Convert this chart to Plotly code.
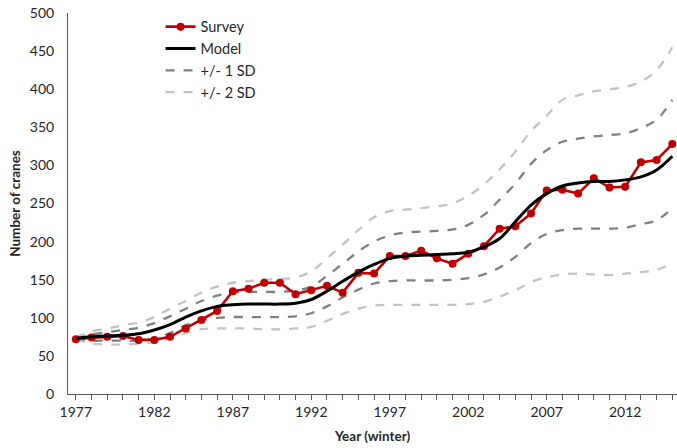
import plotly.graph_objects as go

years = list(range(1977, 2016))

survey = [72, 74, 75, 76, 71, 71, 75, 86, 97, 109, 135, 138, 146, 146, 131, 136, 142, 133,
          159, 158, 181, 181, 188, 178, 171, 184, 194, 217, 220, 237, 267, 268, 263, 283,
          271, 272, 304, 307, 328]

model = [73, 75, 76, 77, 79, 84, 91, 101, 109, 115, 117, 118, 118, 118, 119, 124, 135, 148,
         160, 170, 178, 181, 182, 183, 184, 186, 193, 204, 226, 248, 263, 273, 277, 279,
         279, 281, 285, 294, 312]

upper_2sd = [74, 82, 86, 90, 94, 101, 112, 122, 133, 141, 146, 148, 150, 151, 153, 161, 178,
             196, 215, 232, 240, 242, 244, 246, 250, 260, 275, 295, 318, 345, 365, 386, 392,
             397, 400, 403, 410, 425, 455]

upper_1sd = [73, 78, 81, 84, 87, 93, 102, 112, 122, 129, 133, 134, 134, 134, 136, 141, 155,
             171, 187, 200, 208, 212, 213, 214, 216, 222, 235, 255, 276, 302, 320, 331, 335,
             338, 340, 342, 349, 360, 386]

lower_1sd = [72, 70, 70, 70, 70, 73, 80, 90, 97, 100, 101, 101, 101, 101, 102, 106, 115, 127,
             137, 145, 148, 149, 149, 149, 150, 152, 157, 166, 180, 198, 210, 215, 217, 217,
             217, 218, 223, 228, 244]

lower_2sd = [72, 66, 65, 65, 66, 68, 73, 80, 85, 86, 86, 86, 85, 85, 86, 88, 96, 105, 112,
             116, 117, 117, 117, 117, 117, 118, 121, 128, 136, 147, 153, 157, 158, 157, 156,
             158, 160, 163, 172]

FONT = "Lato, 'Liberation Sans', sans-serif"
RED = "#C00000"
DARK_GREY = "#7F7F7F"
LIGHT_GREY = "#C3C3C3"

fig = go.Figure()

# uncertainty bands (drawn first so the data sit on top)
fig.add_trace(go.Scatter(x=years, y=upper_1sd, mode="lines", name="+/- 1 SD",
                         legendgroup="sd1", legendrank=3,
                         line=dict(color=DARK_GREY, width=2.3, dash="dash", shape="spline")))
fig.add_trace(go.Scatter(x=years, y=lower_1sd, mode="lines", name="+/- 1 SD",
                         legendgroup="sd1", showlegend=False,
                         line=dict(color=DARK_GREY, width=2.3, dash="dash", shape="spline")))
fig.add_trace(go.Scatter(x=years, y=upper_2sd, mode="lines", name="+/- 2 SD",
                         legendgroup="sd2", legendrank=4,
                         line=dict(color=LIGHT_GREY, width=2.3, dash="dash", shape="spline")))
fig.add_trace(go.Scatter(x=years, y=lower_2sd, mode="lines", name="+/- 2 SD",
                         legendgroup="sd2", showlegend=False,
                         line=dict(color=LIGHT_GREY, width=2.3, dash="dash", shape="spline")))

fig.add_trace(go.Scatter(x=years, y=survey, mode="lines+markers", name="Survey", legendrank=1,
                         line=dict(color=RED, width=2.6),
                         marker=dict(color=RED, size=8)))
fig.add_trace(go.Scatter(x=years, y=model, mode="lines", name="Model", legendrank=2,
                         line=dict(color="black", width=3, shape="spline")))

fig.update_layout(
    width=677, height=448,
    margin=dict(l=68, r=0, t=13, b=54),
    paper_bgcolor="white", plot_bgcolor="white",
    font=dict(family=FONT, size=14, color="#262626"),
    showlegend=True,
    legend=dict(x=0.152, y=1.006, xanchor="left", yanchor="top",
                bgcolor="rgba(0,0,0,0)", font=dict(size=14.5, color="#262626"),
                tracegroupgap=0, itemwidth=30),
    xaxis=dict(range=[1976.5, 2015.3], tick0=1977, dtick=5,
               ticks="outside", ticklen=5, tickcolor="#595959",
               minor=dict(dtick=1, ticks="outside", ticklen=5, tickcolor="#595959"),
               showline=True, linecolor="#595959", linewidth=1,
               showgrid=False, zeroline=False,
               title=dict(text="<b>Year (winter)</b>", font=dict(size=13.5), standoff=12)),
    yaxis=dict(range=[0, 500], dtick=50, ticks="", ticklabelstandoff=10,
               showline=True, linecolor="#595959", linewidth=1,
               showgrid=False, zeroline=False,
               title=dict(text="<b>Number of cranes</b>", font=dict(size=13.5), standoff=6)),
)

fig.write_html("out.html")
